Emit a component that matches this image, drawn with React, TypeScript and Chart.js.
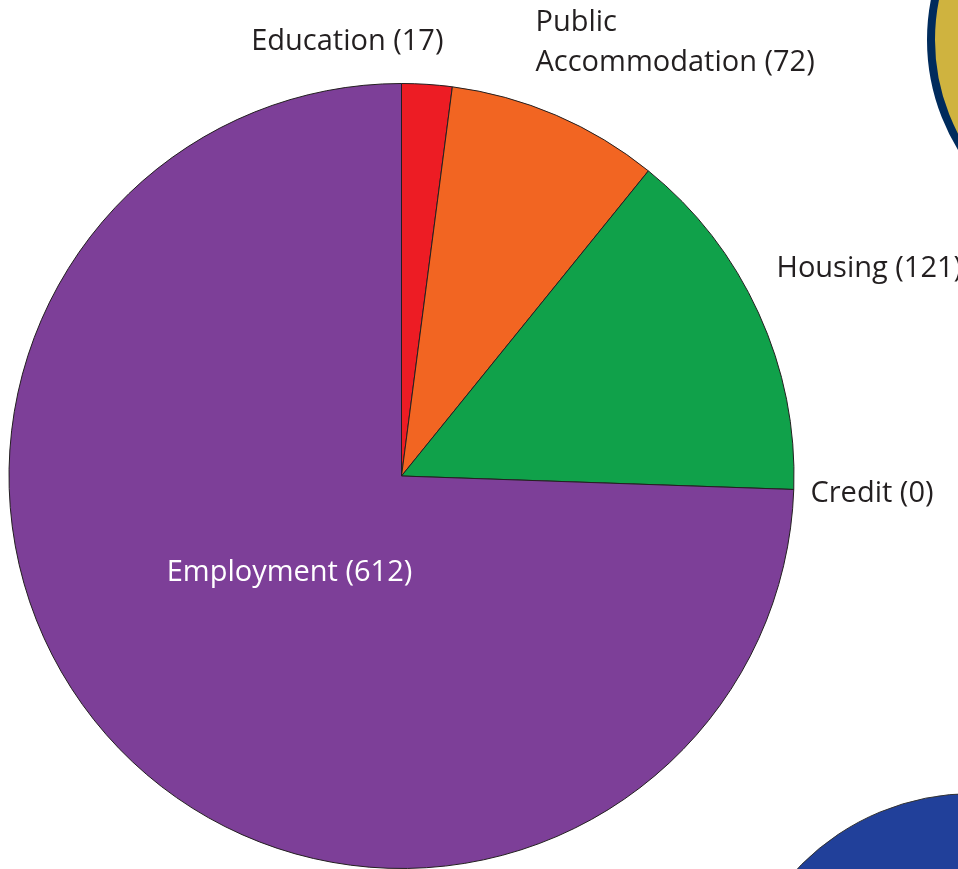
import React, { useEffect, useRef } from "react";
import { Chart, registerables } from "chart.js";

Chart.register(...registerables);

const categories = ["Education", "Public Accommodation", "Housing", "Credit", "Employment"];
const counts = [17, 72, 121, 0, 612];
const sliceColors = ["#ED1C24", "#F26522", "#10A14A", "#7D3F98", "#7D3F98"];

// label placement relative to pie centre (in px), alignment and colour
const labelLayout: { dx: number; dy: number; align: CanvasTextAlign; color: string; lines?: string[] }[] = [
  { dx: 42, dy: -434, align: "right", color: "#231F20" },
  { dx: 134, dy: -453, align: "left", color: "#231F20", lines: ["Public", "Accommodation (72)"] },
  { dx: 375, dy: -207, align: "left", color: "#231F20" },
  { dx: 409, dy: 18, align: "left", color: "#231F20" },
  { dx: -112, dy: 97, align: "center", color: "#FFFFFF" },
];

const FONT = "29px 'Open Sans', sans-serif";

const labelPlugin = {
  id: "sliceLabels",
  afterDatasetsDraw(chart: any) {
    const meta = chart.getDatasetMeta(0);
    const arc = meta.data[0];
    if (!arc) return;
    const cx = arc.x;
    const cy = arc.y;
    const ctx = chart.ctx;
    ctx.save();
    ctx.font = FONT;
    ctx.textBaseline = "middle";
    categories.forEach((cat, i) => {
      const l = labelLayout[i];
      const lines = l.lines || [`${cat} (${counts[i]})`];
      ctx.fillStyle = l.color;
      ctx.textAlign = l.align;
      lines.forEach((t, j) => {
        ctx.fillText(t, cx + l.dx, cy + l.dy + j * 40);
      });
    });
    ctx.restore();
  },
};

export default function App() {
  const ref = useRef<HTMLCanvasElement>(null);
  useEffect(() => {
    if (!ref.current) return;
    const chart = new Chart(ref.current, {
      type: "pie",
      data: {
        labels: categories,
        datasets: [
          {
            data: counts,
            backgroundColor: sliceColors,
            borderColor: "#231F20",
            borderWidth: 1,
            hoverOffset: 0,
            hoverBorderWidth: 1,
          },
        ],
      },
      options: {
        animation: false,
        responsive: true,
        maintainAspectRatio: false,
        layout: { padding: { left: 8, top: 83, right: 163, bottom: 0 } },
        plugins: { legend: { display: false }, tooltip: { enabled: false } },
        events: [],
      },
      plugins: [labelPlugin],
    });
    return () => chart.destroy();
  }, []);

  return (
    <div style={{ position: "fixed", left: 0, top: 0, width: 958, height: 869, overflow: "hidden", background: "#fff" }}>
      <div
        style={{
          position: "absolute",
          left: 1137 - 210,
          top: 40 - 210,
          width: 420,
          height: 420,
          borderRadius: "50%",
          background: "#CFB33F",
          border: "8px solid #002B5C",
          boxSizing: "border-box",
        }}
      />
      <div
        style={{
          position: "absolute",
          left: 973 - 243,
          top: 1036 - 243,
          width: 486,
          height: 486,
          borderRadius: "50%",
          background: "#21409A",
          border: "1px solid #333",
          boxSizing: "border-box",
        }}
      />
      <div style={{ position: "absolute", left: 0, top: 0, width: 958, height: 869 }}>
        <canvas ref={ref} />
      </div>
    </div>
  );
}
